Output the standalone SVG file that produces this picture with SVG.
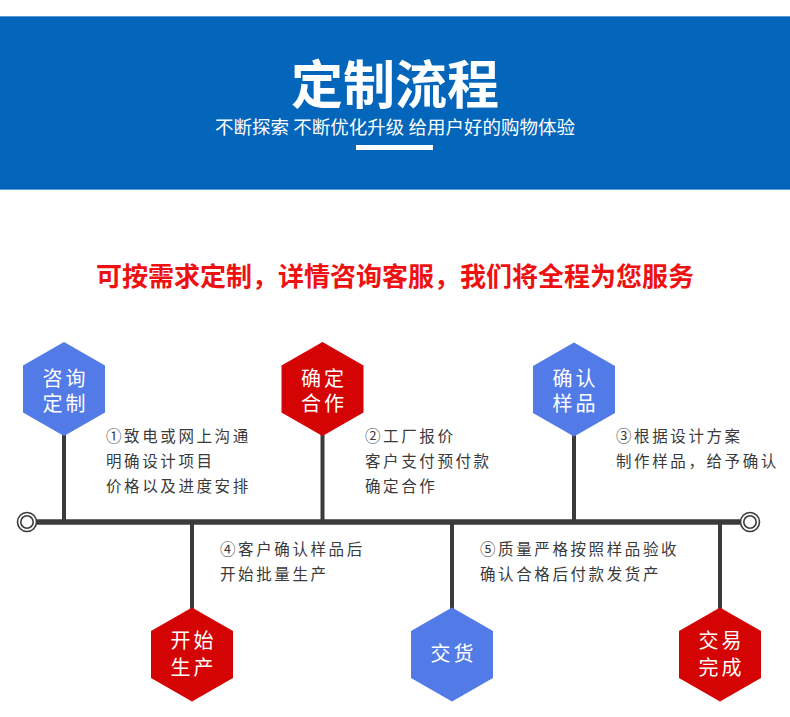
<svg xmlns="http://www.w3.org/2000/svg" width="790" height="717" viewBox="0 0 790 717">
<defs>
<style>
.cjk{font-family:"Noto Sans CJK SC","Noto Sans",sans-serif}
.hexb{fill:#537BE8}
.hexr{fill:#D40404}
.ht{fill:#fff;font-size:20px;letter-spacing:3px;text-anchor:middle}
.desc{fill:#3a3a3a;font-size:15.5px;letter-spacing:2.6px}
.ln{stroke:#3b3b3b;stroke-width:4;fill:none}
.ring{fill:#fff;stroke:#3b3b3b;stroke-width:1.6}
</style>
<polygon id="hx" points="0,-47 41,-23.5 41,23.5 0,47 -41,23.5 -41,-23.5"/>
</defs>
<rect width="790" height="717" fill="#fff"/>
<g id="banner">
<rect x="0" y="16" width="790" height="174" fill="#0366BB"/>
<rect x="0" y="16" width="790" height="1" fill="#5A9BD9"/>
<rect x="0" y="189" width="790" height="1" fill="#5A9BD9"/>
<text class="cjk" x="395" y="104" font-size="52" font-weight="bold" fill="#fff" text-anchor="middle">定制流程</text>
<text class="cjk" x="395" y="134" font-size="18.5" fill="#fff" text-anchor="middle">不断探索 不断优化升级 给用户好的购物体验</text>
<rect x="356" y="145" width="77" height="5" fill="#fff"/>
</g>
<text id="slogan" class="cjk" x="395" y="286" font-size="26" font-weight="bold" fill="#EE1111" text-anchor="middle">可按需求定制，详情咨询客服，我们将全程为您服务</text>
<g id="connectors">
<line x1="36" y1="522" x2="741" y2="522" stroke="#3b3b3b" stroke-width="5.5"/>
<line class="ln" x1="64" y1="434" x2="64" y2="522"/>
<line class="ln" x1="322.5" y1="434" x2="322.5" y2="522"/>
<line class="ln" x1="574" y1="434" x2="574" y2="522"/>
<line class="ln" x1="192" y1="522" x2="192" y2="610"/>
<line class="ln" x1="452" y1="522" x2="452" y2="610"/>
<line class="ln" x1="720" y1="522" x2="720" y2="610"/>
<circle class="ring" cx="27" cy="522" r="9.5"/>
<circle class="ring" cx="27" cy="522" r="6.2"/>
<circle class="ring" cx="750" cy="522" r="9.5"/>
<circle class="ring" cx="750" cy="522" r="6.2"/>
</g>
<g id="n1">
<use href="#hx" x="64" y="389" class="hexb"/>
<text class="cjk ht" x="65.5" y="386">咨询</text>
<text class="cjk ht" x="65.5" y="411">定制</text>
</g>
<g id="n2">
<use href="#hx" x="322.5" y="389" class="hexr"/>
<text class="cjk ht" x="324" y="386">确定</text>
<text class="cjk ht" x="324" y="411">合作</text>
</g>
<g id="n3">
<use href="#hx" x="574" y="389.5" class="hexb"/>
<text class="cjk ht" x="575.5" y="386">确认</text>
<text class="cjk ht" x="575.5" y="411">样品</text>
</g>
<g id="n4">
<use href="#hx" x="192" y="654.5" class="hexr"/>
<text class="cjk ht" x="193.5" y="648">开始</text>
<text class="cjk ht" x="193.5" y="675">生产</text>
</g>
<g id="n5">
<use href="#hx" x="452" y="654.5" class="hexb"/>
<text class="cjk ht" x="453.5" y="661">交货</text>
</g>
<g id="n6">
<use href="#hx" x="720" y="654.5" class="hexr"/>
<text class="cjk ht" x="721.5" y="648">交易</text>
<text class="cjk ht" x="721.5" y="675">完成</text>
</g>
<g id="d1" class="cjk desc">
<text x="106" y="442">①致电或网上沟通</text>
<text x="106" y="467">明确设计项目</text>
<text x="106" y="492">价格以及进度安排</text>
</g>
<g id="d2" class="cjk desc">
<text x="365" y="442">②工厂报价</text>
<text x="365" y="467">客户支付预付款</text>
<text x="365" y="492">确定合作</text>
</g>
<g id="d3" class="cjk desc">
<text x="616" y="442">③根据设计方案</text>
<text x="616" y="467">制作样品，给予确认</text>
</g>
<g id="d4" class="cjk desc">
<text x="220" y="555">④客户确认样品后</text>
<text x="220" y="580">开始批量生产</text>
</g>
<g id="d5" class="cjk desc">
<text x="480" y="555">⑤质量严格按照样品验收</text>
<text x="480" y="580">确认合格后付款发货产</text>
</g>
</svg>
